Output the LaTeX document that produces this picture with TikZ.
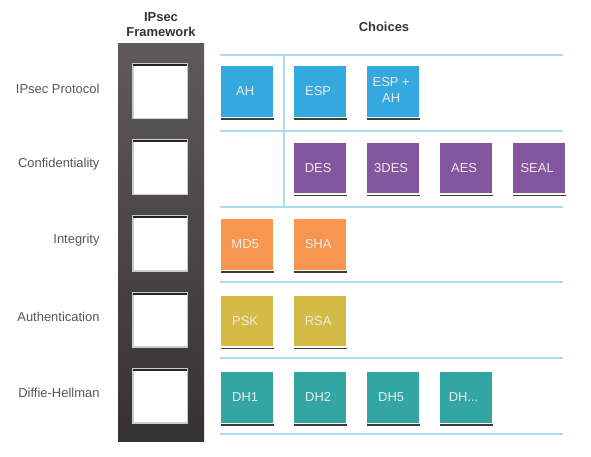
\documentclass[tikz,border=0pt]{standalone}
\usepackage{fontspec}
\setmainfont{Liberation Sans}
\usetikzlibrary{matrix, shadows}

\definecolor{ipblue}{HTML}{35A9DF}
\definecolor{confpurple}{HTML}{8556A0}
\definecolor{intorange}{HTML}{F7964E}
\definecolor{authyellow}{HTML}{D3BB45}
\definecolor{dhteal}{HTML}{33A6A3}
\definecolor{rulecol}{HTML}{A9DBF1}
\definecolor{frametop}{HTML}{5E595A}
\definecolor{framebot}{HTML}{363132}
\definecolor{labelgray}{HTML}{555555}

% two-line cell text, kept away from the matrix row separator
\newcommand{\twolines}[2]{\begin{tabular}{@{}c@{}}#1\\#2\end{tabular}}

\tikzset{
  choice/.style={draw=white, line width=1.5bp, minimum width=53bp, minimum height=52bp,
    inner sep=0pt, anchor=center, text=white!92!black, align=center,
    font=\fontsize{13}{16}\selectfont,
    drop shadow={shadow xshift=0.5bp, shadow yshift=-2.5bp, fill=black!85, opacity=0.9}},
  slot/.style={draw=black!20, fill=white, line width=1.5bp, minimum size=54.5bp, inner sep=0pt},
  rowlabel/.style={anchor=east, text=labelgray, font=\fontsize{13}{15}\selectfont},
  header/.style={text=black!80, align=center, font=\bfseries\fontsize{13}{15}\selectfont},
  sep/.style={draw=rulecol, line width=2bp},
}

\begin{document}
\begin{tikzpicture}[x=1bp, y=-1bp]
\useasboundingbox (0,0) rectangle (591,457);

% headers
\node[header] (fwtitle) at (161,25) {IPsec\\Framework};
\node[header] (chtitle) at (384,27) {Choices};

% framework column
\node (frame) [minimum width=86bp, minimum height=397bp, inner sep=0pt,
  top color=frametop, bottom color=framebot,
  drop shadow={shadow xshift=0bp, shadow yshift=-1bp, fill=black!40, opacity=0.5}] at (161,242.5) {};

% slots and row labels
\foreach \lab [count=\i] in {IPsec Protocol, Confidentiality, Integrity, Authentication, Diffie-Hellman} {
  \pgfmathsetmacro{\y}{91.5+76*(\i-1)}
  \node[slot] (slot\i) at (160,\y) {};
  \draw[black!85, line width=2bp] ([xshift=1bp, yshift=-2bp]slot\i.north west) -- ([xshift=-1bp, yshift=-2bp]slot\i.north east);
  \node[rowlabel] (lab\i) at (103,\y-3) {\lab};
}

% separator rules
\foreach \k in {0,...,5} {
  \coordinate (rl\k) at (220,55+75.8*\k);
  \coordinate (rr\k) at (563,55+75.8*\k);
  \draw[sep] (rl\k) -- (rr\k);
}
\coordinate (vtop) at (283.5,55);
\coordinate (vbot) at (283.5,207);
\draw[sep] (vtop) -- (vbot);

% choices
\matrix (m) [matrix of nodes, inner sep=0pt, anchor=north west,
  column sep=18.5bp, row sep=23bp, nodes={choice},
  row 1/.style={nodes={fill=ipblue}},
  row 2/.style={nodes={fill=confpurple}},
  row 3/.style={nodes={fill=intorange}},
  row 4/.style={nodes={fill=authyellow}},
  row 5/.style={nodes={fill=dhteal}}] at (219.5,64.5) {
AH & ESP & \twolines{ESP +}{AH} & & \\
 & DES & 3DES & AES & SEAL \\
MD5 & SHA & & & \\
PSK & RSA & & & \\
DH1 & DH2 & DH5 & DH... & \\
};

\end{tikzpicture}
\end{document}
